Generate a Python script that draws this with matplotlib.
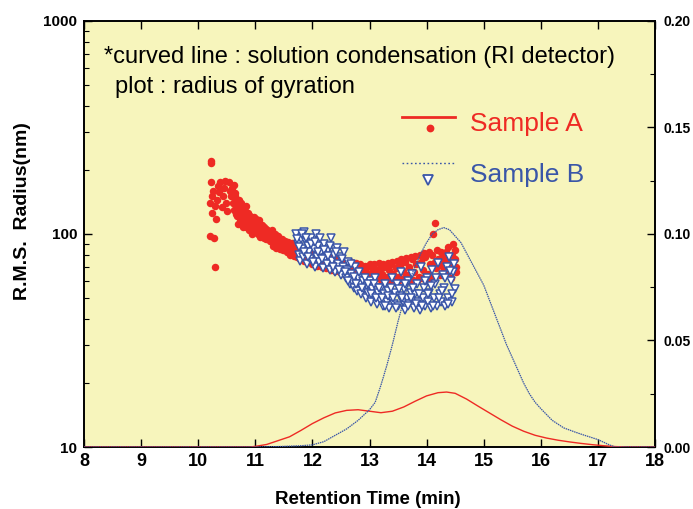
import numpy as np
import matplotlib
matplotlib.use("Agg")
import matplotlib.pyplot as plt
from matplotlib.ticker import FixedLocator, NullFormatter, MultipleLocator

plt.rcParams['font.family'] = ['Liberation Sans', 'DejaVu Sans']

# scatter: radius of gyration (nm)
a_x = [10.20, 10.21, 10.22, 10.23, 10.22, 10.24, 10.25, 10.26, 10.28, 10.30, 10.29, 10.31, 10.33, 10.35,
       10.37, 10.39, 10.41, 10.43, 10.45, 10.47, 10.49, 10.51, 10.54, 10.56, 10.58, 10.60, 10.61, 10.63,
       10.64, 10.66, 10.67, 10.69, 10.70, 10.72, 10.73, 10.75, 10.76, 10.78, 10.80, 10.82, 10.84, 10.86,
       10.88, 10.90, 10.92, 10.94, 10.96, 10.98, 11.00, 11.02, 11.04, 11.06, 11.08, 11.10, 11.12, 11.14,
       11.16, 11.18, 11.20, 11.22, 11.24, 11.26, 11.28, 11.30, 11.33, 11.36, 11.39, 11.42, 11.45, 11.48,
       11.51, 11.54, 11.57, 11.60, 11.63, 11.66, 11.69, 11.72, 11.75, 11.78, 11.81, 11.84, 11.87, 11.90,
       11.94, 11.98, 12.02, 12.06, 12.10, 12.14, 12.18, 12.22, 12.26, 12.30, 12.34, 12.38, 12.42, 12.46,
       12.50, 12.54, 12.58, 12.62, 12.66, 12.70, 12.74, 12.78, 12.82, 12.86, 12.90, 12.94, 12.98, 13.02,
       13.06, 13.10, 13.14, 13.18, 13.22, 13.26, 13.30, 13.34, 13.38, 13.42, 13.46, 13.50, 13.54, 13.58,
       13.62, 13.66, 13.70, 13.74, 13.78, 13.82, 13.86, 13.90, 13.94, 13.98, 14.02, 14.06, 14.10, 14.12,
       14.15, 14.17, 14.20, 14.23, 14.26, 14.29, 14.32, 14.35, 14.38, 14.40, 14.42, 14.45, 14.47, 14.50,
       14.52,
       10.62, 10.65, 10.68, 10.71, 10.74, 10.77, 10.79, 10.81, 10.83, 10.85, 10.87, 10.89, 10.91, 10.93,
       10.95, 10.97, 10.99, 11.01, 11.03, 11.05, 11.07, 11.09, 11.11, 11.13, 11.15, 11.17, 11.19, 11.21,
       11.23, 11.25, 11.27, 11.29, 11.31, 11.34, 11.37, 11.40, 11.43, 11.46, 11.49, 11.52, 11.55, 11.58,
       11.61, 11.64, 11.67, 11.70, 11.73, 11.76, 11.79, 11.82, 11.85, 11.88, 11.92, 11.96, 12.00, 12.04,
       12.08, 12.12, 12.16, 12.20, 12.24, 12.28, 12.32, 12.36, 12.40, 12.44, 12.48, 12.52, 12.56, 12.60,
       12.64, 12.68, 12.72, 12.76, 12.80, 12.84, 12.88, 12.92, 12.96, 13.00, 13.04, 13.08, 13.12, 13.16,
       13.20, 13.24, 13.28, 13.32, 13.36, 13.40, 13.44, 13.48, 13.52, 13.56, 13.60, 13.64, 13.68, 13.72,
       13.76, 13.80, 13.84, 13.88, 13.92, 13.96, 14.00, 14.04, 14.08, 14.14, 14.19, 14.22, 14.25, 14.28,
       14.31, 14.34, 14.37, 14.39, 14.43, 14.46, 14.49, 14.51]
a_y = [98, 140, 215, 220, 175, 125, 150, 160, 96, 70, 135, 118, 145, 168,
       158, 176, 134, 150, 165, 178, 140, 128, 176, 160, 150, 165, 140, 130,
       155, 124, 145, 135, 112, 130, 118, 140, 110, 125, 115, 128, 108, 120,
       112, 118, 105, 115, 108, 120, 104, 112, 100, 116, 106, 98, 110, 102,
       96, 106, 99, 103, 95, 100, 93, 98, 92, 96, 90, 94, 89, 92,
       87, 90, 86, 89, 85, 88, 84, 86, 82, 85, 80, 83, 79, 82,
       78, 81, 77, 80, 76, 79, 75, 78, 74, 77, 73, 76, 72, 75,
       71, 74, 70, 73, 69, 72, 68, 71, 67, 70, 66, 69, 65, 70,
       66, 68, 64, 69, 65, 70, 63, 68, 72, 65, 69, 63, 71, 67,
       74, 64, 70, 76, 66, 72, 63, 74, 68, 78, 65, 72, 80, 100,
       113, 69, 76, 64, 82, 70, 78, 66, 87, 74, 62, 80, 70, 84,
       66,
       170, 150, 122, 145, 128, 135, 108, 120, 135, 112, 125, 104, 122, 112,
       100, 114, 110, 118, 108, 102, 112, 97, 105, 99, 108, 101, 95, 104,
       98, 93, 101, 104, 88, 100, 86, 98, 85, 95, 84, 93, 82, 92,
       80, 91, 79, 90, 78, 88, 76, 86, 75, 84, 74, 83, 72, 82,
       71, 81, 70, 80, 69, 79, 68, 78, 67, 77, 66, 76, 65, 75,
       64, 74, 64, 73, 63, 72, 63, 71, 62, 72, 61, 72, 62, 73,
       61, 72, 60, 73, 61, 74, 60, 75, 61, 76, 62, 77, 60, 78,
       61, 79, 60, 80, 62, 81, 61, 82, 63, 74, 84, 72, 77, 66,
       74, 82, 70, 76, 73, 90, 76, 70]

b_x = [11.72, 11.74, 11.76, 11.78, 11.80, 11.82, 11.84, 11.86, 11.88, 11.90, 11.92, 11.94, 11.96, 11.98,
       12.02, 12.04, 12.06, 12.08, 12.10, 12.12, 12.15, 12.18, 12.20, 12.22, 12.25, 12.28, 12.30, 12.33,
       12.35, 12.38, 12.40, 12.43, 12.45, 12.48, 12.50, 12.53, 12.55, 12.58, 12.60, 12.63, 12.65, 12.68,
       12.70, 12.73, 12.75, 12.78, 12.80, 12.83, 12.85, 12.88, 12.90, 12.93, 12.95, 12.98, 13.00, 13.03,
       13.05, 13.08, 13.10, 13.13, 13.15, 13.18, 13.20, 13.23, 13.25, 13.28, 13.30, 13.33, 13.35, 13.38,
       13.40, 13.43, 13.45, 13.48, 13.50, 13.53, 13.55, 13.58, 13.60, 13.63, 13.65, 13.68, 13.70, 13.73,
       13.75, 13.78, 13.80, 13.83, 13.85, 13.88, 13.90, 13.93, 13.95, 13.98, 14.00, 14.03, 14.05, 14.08,
       14.10, 14.13, 14.15, 14.18, 14.20, 14.23, 14.25, 14.28, 14.30, 14.33, 14.35, 14.38, 14.40, 14.42,
       14.45, 14.47, 14.50,
       11.73, 11.77, 11.81, 11.85, 11.89, 11.93, 11.97, 12.01, 12.05, 12.09, 12.13, 12.17, 12.21, 12.27,
       12.31, 12.36, 12.41, 12.46, 12.52, 12.57, 12.62, 12.67, 12.72, 12.77, 12.82, 12.87, 12.92, 12.97,
       13.02, 13.07, 13.12, 13.17, 13.22, 13.27, 13.32, 13.37, 13.42, 13.47, 13.52, 13.57, 13.62, 13.67,
       13.72, 13.77, 13.82, 13.87, 13.92, 13.97, 14.02, 14.07, 14.12, 14.17, 14.22, 14.27, 14.32, 14.37,
       14.41, 14.44, 14.48]
b_y = [100, 90, 80, 75, 95, 85, 78, 102, 92, 72, 88, 82, 76, 96,
       85, 70, 100, 78, 88, 74, 82, 69, 90, 77, 72, 84, 68, 96,
       75, 80, 66, 86, 72, 78, 64, 70, 82, 62, 68, 74, 58, 65,
       60, 56, 70, 54, 62, 58, 52, 60, 55, 50, 57, 53, 60, 48,
       55, 51, 62, 47, 53, 49, 56, 46, 52, 58, 48, 54, 45, 50,
       62, 47, 53, 58, 46, 51, 66, 48, 55, 44, 50, 60, 47, 53,
       65, 45, 52, 58, 48, 44, 70, 50, 56, 46, 62, 48, 53, 45,
       68, 50, 58, 46, 73, 52, 48, 64, 56, 46, 70, 50, 78, 60,
       48, 66, 55,
       95, 87, 100, 82, 96, 78, 90, 74, 92, 82, 96, 76, 84, 79,
       88, 70, 82, 68, 76, 66, 60, 72, 63, 58, 66, 56, 62, 58,
       52, 58, 50, 56, 50, 46, 51, 56, 50, 45, 55, 50, 58, 46,
       50, 56, 47, 52, 46, 60, 52, 57, 46, 62, 50, 54, 62, 47,
       67, 52, 72]

# curves: solution condensation (RI detector), right axis
ca_x = [8.0, 10.9, 11.0, 11.2, 11.4, 11.6, 11.8, 12.0, 12.2, 12.4, 12.6, 12.8, 13.0, 13.2, 13.4, 13.6,
        13.8, 14.0, 14.2, 14.35, 14.5, 14.7, 14.9, 15.1, 15.3, 15.5, 15.7, 15.9, 16.1, 16.3, 16.5,
        16.7, 16.9, 17.1, 17.3, 17.5, 18.0]
ca_y = [0.0, 0.0, 0.0003, 0.0012, 0.003, 0.0048, 0.0078, 0.011, 0.0137, 0.016, 0.0172, 0.0175, 0.0168,
        0.0161, 0.0168, 0.0188, 0.0215, 0.024, 0.0255, 0.0258, 0.0252, 0.0225, 0.0192, 0.016, 0.0128,
        0.0098, 0.0074, 0.0055, 0.0042, 0.0032, 0.0024, 0.0017, 0.0011, 0.0006, 0.0002, 0.0, 0.0]

cb_x = [8.0, 11.0, 11.4, 11.8, 12.0, 12.2, 12.4, 12.6, 12.8, 13.0, 13.1, 13.2, 13.3, 13.4, 13.5, 13.6,
        13.7, 13.8, 13.9, 14.0, 14.1, 14.2, 14.3, 14.4, 14.5, 14.6, 14.7, 14.8, 14.9, 15.0, 15.1, 15.2,
        15.3, 15.4, 15.5, 15.6, 15.7, 15.8, 15.9, 16.0, 16.2, 16.4, 16.6, 16.8, 17.0, 17.2, 17.3, 18.0]
cb_y = [0.0, 0.0, 0.0002, 0.0006, 0.001, 0.0025, 0.0055, 0.0085, 0.0125, 0.0175, 0.021, 0.029, 0.038,
        0.048, 0.059, 0.069, 0.078, 0.085, 0.091, 0.096, 0.100, 0.102, 0.103, 0.102, 0.099, 0.096,
        0.091, 0.086, 0.081, 0.076, 0.069, 0.062, 0.055, 0.048, 0.042, 0.036, 0.030, 0.025, 0.021,
        0.018, 0.0125, 0.009, 0.007, 0.0052, 0.0035, 0.001, 0.0, 0.0]

red = '#EE2A24'
blue = '#3A56A8'
bg = '#F7F5BC'

fig = plt.figure(figsize=(6.93, 5.09), dpi=100)
ax = fig.add_axes([0.1212, 0.1218, 0.824, 0.837])
ax.set_facecolor(bg)

ax.plot(a_x, a_y, 'o', color=red, markersize=5.4, markeredgewidth=0, zorder=3)
ax.plot(b_x, b_y, 'v', markerfacecolor='white', markeredgecolor=blue, markersize=5.4,
        markeredgewidth=1.1, zorder=4)

ax.set_yscale('log')
ax.set_ylim(10, 1000)
ax.set_xlim(8, 18)
ax.yaxis.set_major_locator(FixedLocator([10, 100, 1000]))
ax.set_yticklabels(['10', '100', '1000'])
ax.yaxis.set_minor_locator(FixedLocator([v * d for d in (10, 100) for v in range(2, 10)]))
ax.yaxis.set_minor_formatter(NullFormatter())
ax.xaxis.set_major_locator(MultipleLocator(1))
ax.tick_params(axis='x', which='major', direction='in', length=6, top=True, width=1,
               labelsize=13, pad=4)
ax.tick_params(axis='y', which='major', direction='in', length=6, width=1, labelsize=11, pad=5)
ax.tick_params(axis='y', which='minor', direction='in', length=3.5, width=0.8)
for lab in ax.get_xticklabels() + ax.get_yticklabels():
    lab.set_fontweight('bold')

ax.set_xlabel('Retention Time (min)', fontsize=13.5, fontweight='bold', va='top')
ax.xaxis.set_label_coords(0.497, -0.104)
ax.set_ylabel('R.M.S.  Radius(nm)', fontsize=14, fontweight='bold', va='center')
ax.yaxis.set_label_coords(-0.108, 0.554)

ax2 = ax.twinx()
ax2.plot(ca_x, ca_y, '-', color=red, linewidth=1.0, zorder=5)
ax2.plot(cb_x, cb_y, color=blue, linewidth=0.9, linestyle=(0, (1.2, 0.6)), zorder=5)
ax2.set_ylim(0, 0.2)
ax2.yaxis.set_major_locator(MultipleLocator(0.05))
ax2.yaxis.set_minor_locator(MultipleLocator(0.025))
ax2.set_yticklabels(['%.2f' % v for v in ax2.get_yticks()])
ax2.tick_params(axis='y', which='major', direction='in', length=6, width=1, labelsize=10, pad=6)
ax2.tick_params(axis='y', which='minor', direction='in', length=3.5, width=0.8)
for lab in ax2.get_yticklabels():
    lab.set_fontweight('bold')

for a in (ax, ax2):
    for s in a.spines.values():
        s.set_linewidth(1.2)

# annotation
ax.text(0.035, 0.915, '*curved line : solution condensation (RI detector)', transform=ax.transAxes,
        fontsize=17, va='center', ha='left')
ax.text(0.054, 0.845, 'plot : radius of gyration', transform=ax.transAxes,
        fontsize=17, va='center', ha='left')

# legend
ax.plot([0.557, 0.650], [0.775, 0.775], transform=ax.transAxes, color=red, linewidth=2, zorder=6)
ax.plot([0.606], [0.749], 'o', transform=ax.transAxes, color=red, markersize=5.6,
        markeredgewidth=0, zorder=6)
ax.text(0.676, 0.758, 'Sample A', transform=ax.transAxes, color=red, fontsize=19,
        va='center', ha='left')
ax.plot([0.557, 0.650], [0.667, 0.667], transform=ax.transAxes, color=blue, linewidth=1.0,
        linestyle=(0, (1.2, 1.8)), zorder=6)
ax.plot([0.602], [0.627], 'v', transform=ax.transAxes, markerfacecolor='white',
        markeredgecolor=blue, markersize=6.5, markeredgewidth=1.3, zorder=6)
ax.text(0.676, 0.638, 'Sample B', transform=ax.transAxes, color=blue, fontsize=19,
        va='center', ha='left')

fig.savefig('out.png', dpi=100, facecolor='white')
